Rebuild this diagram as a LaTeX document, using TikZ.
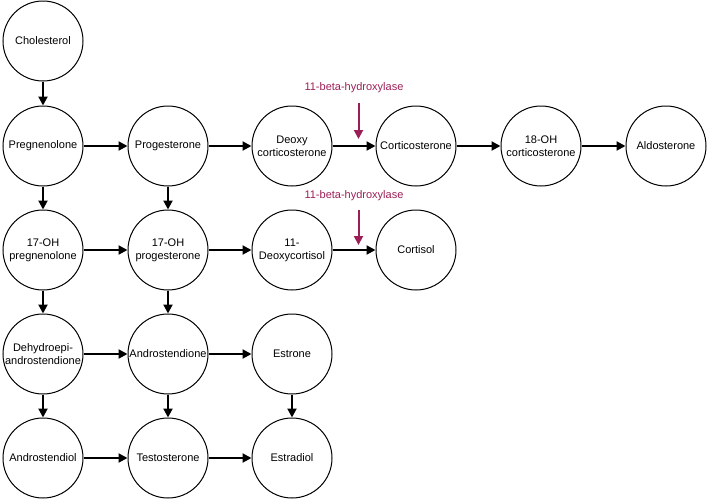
\documentclass[tikz,border=0pt]{standalone}
\usepackage{fontspec}
\setmainfont{Liberation Sans}
\usetikzlibrary{arrows.meta}
\definecolor{enz}{RGB}{156,30,86}
\begin{document}
\begin{tikzpicture}[x=1pt,y=-1pt,
  mol/.style={circle,draw=black,line width=1pt,minimum size=80pt,inner sep=0pt,align=center,font=\fontsize{11}{13}\selectfont},
  conv/.style={-{Triangle[length=9pt,width=9pt]},line width=2pt},
  enzlab/.style={text=enz,font=\fontsize{11}{13}\selectfont},
  enzarr/.style={-{Triangle[length=9pt,width=9pt]},line width=2pt,draw=enz}]
\useasboundingbox (0,0) rectangle (709,501);
% row 1
\node[mol] (chol) at (43,41) {Cholesterol};
% row 2
\node[mol] (preg) at (43,146) {Pregnenolone};
\node[mol] (prog) at (168,146) {Progesterone};
\node[mol] (doc) at (292,146) {Deoxy\\corticosterone};
\node[mol] (cort) at (416,146) {Corticosterone};
\node[mol] (ohc) at (541,146) {18-OH\\corticosterone};
\node[mol] (aldo) at (666,146) {Aldosterone};
% row 3
\node[mol] (ohpreg) at (43,250) {17-OH\\pregnenolone};
\node[mol] (ohprog) at (168,250) {17-OH\\progesterone};
\node[mol] (dcol) at (292,250) {11-\\Deoxycortisol};
\node[mol] (col) at (416,250) {Cortisol};
% row 4
\node[mol] (dhea) at (43,354) {Dehydroepi-\\androstendione};
\node[mol] (andro) at (168,354) {Androstendione};
\node[mol] (estrone) at (292,354) {Estrone};
% row 5
\node[mol] (adiol) at (43,458) {Androstendiol};
\node[mol] (testo) at (168,458) {Testosterone};
\node[mol] (estra) at (292,458) {Estradiol};
% vertical arrows
\draw[conv] (chol) -- (preg);
\draw[conv] (preg) -- (ohpreg);
\draw[conv] (prog) -- (ohprog);
\draw[conv] (ohpreg) -- (dhea);
\draw[conv] (ohprog) -- (andro);
\draw[conv] (dhea) -- (adiol);
\draw[conv] (andro) -- (testo);
\draw[conv] (estrone) -- (estra);
% horizontal arrows
\draw[conv] (preg) -- (prog);
\draw[conv] (prog) -- (doc);
\draw[conv] (doc) -- (cort);
\draw[conv] (cort) -- (ohc);
\draw[conv] (ohc) -- (aldo);
\draw[conv] (ohpreg) -- (ohprog);
\draw[conv] (ohprog) -- (dcol);
\draw[conv] (dcol) -- (col);
\draw[conv] (dhea) -- (andro);
\draw[conv] (andro) -- (estrone);
\draw[conv] (adiol) -- (testo);
\draw[conv] (testo) -- (estra);
% enzyme labels
\node[enzlab] (enz1) at (354,88) {11-beta-hydroxylase};
\node[enzlab] (enz2) at (354,196) {11-beta-hydroxylase};
\coordinate (e1s) at (358.5,103);
\coordinate (e1e) at (358.5,139);
\coordinate (e2s) at (358.5,210);
\coordinate (e2e) at (358.5,245);
\draw[enzarr] (e1s) -- (e1e);
\draw[enzarr] (e2s) -- (e2e);
\end{tikzpicture}
\end{document}
